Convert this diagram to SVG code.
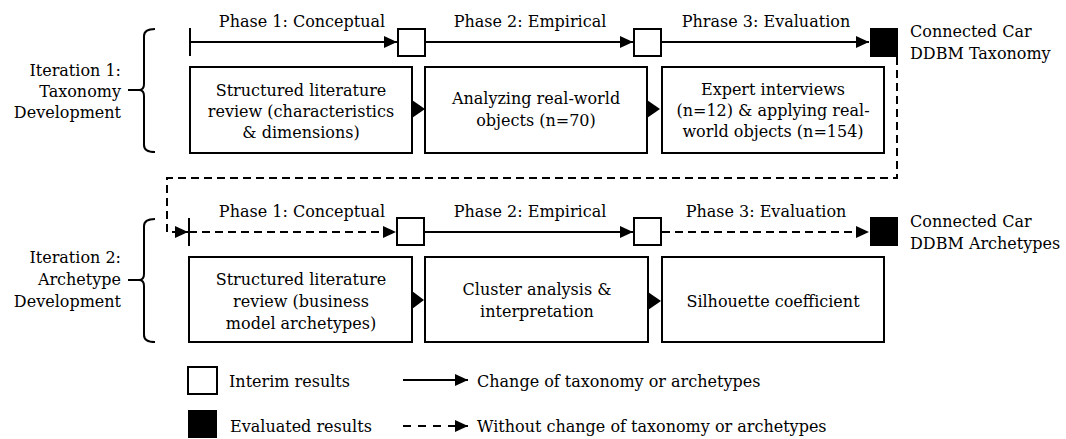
<svg xmlns="http://www.w3.org/2000/svg" width="1066" height="439" viewBox="0 0 1066 439">
<defs>
<style>
text{font-family:"DejaVu Serif","Liberation Serif",serif;font-size:16px;fill:#000}
.c{text-anchor:middle}
.e{text-anchor:end}
.ln{stroke:#000;stroke-width:2;fill:none}
.dash{stroke-dasharray:8,5}
.ldash{stroke-dasharray:8,7}
.box{fill:#fff;stroke:#000;stroke-width:2}
.blk{fill:#000;stroke:#000;stroke-width:2}
.tri{fill:#000}
</style>
<marker id="ah" markerUnits="userSpaceOnUse" markerWidth="14" markerHeight="12" refX="13" refY="6" orient="auto">
<path d="M0,0 L13,6 L0,12 z" fill="#000"/>
</marker>
</defs>

<g id="bracket1">
<path class="ln" d="M155,29 Q144,29 144,36 L144,84 Q144,90 139,90 Q144,90 144,96 L144,145 Q144,152 155,152"/>
<line class="ln" x1="128" y1="90" x2="142" y2="90"/>
<text class="e" x="121" y="76">Iteration 1:</text>
<text class="e" x="121" y="97">Taxonomy</text>
<text class="e" x="121" y="118">Development</text>
</g>
<g id="bracket2">
<path class="ln" d="M155,219 Q144,219 144,226 L144,274 Q144,280 139,280 Q144,280 144,286 L144,335 Q144,342 155,342"/>
<line class="ln" x1="128" y1="280" x2="142" y2="280"/>
<text class="e" x="121" y="263">Iteration 2:</text>
<text class="e" x="121" y="285">Archetype</text>
<text class="e" x="121" y="307">Development</text>
</g>

<g id="connectors">
<line class="ln" x1="190" y1="28" x2="190" y2="56"/>
<line class="ln" x1="190" y1="42" x2="397" y2="42" marker-end="url(#ah)"/>
<line class="ln" x1="426" y1="42" x2="633" y2="42" marker-end="url(#ah)"/>
<line class="ln" x1="662" y1="42" x2="869" y2="42" marker-end="url(#ah)"/>
<path class="ln dash" d="M897,57 L897,178 L167,178 L167,232 L188,232" marker-end="url(#ah)"/>
<line class="ln" x1="189" y1="218" x2="189" y2="246"/>
<line class="ln dash" x1="189" y1="232" x2="396" y2="232" marker-end="url(#ah)"/>
<line class="ln" x1="425" y1="232" x2="633" y2="232" marker-end="url(#ah)"/>
<line class="ln dash" x1="662" y1="232" x2="869" y2="232" marker-end="url(#ah)"/>
<polygon class="tri" points="412,100 425,109 412,118"/>
<polygon class="tri" points="647,100 660,109 647,118"/>
<polygon class="tri" points="412,291 424,300 412,309"/>
<polygon class="tri" points="648,292 661,301 648,310"/>
</g>

<g id="phase-labels">
<text class="c" x="302" y="27">Phase 1: Conceptual</text>
<text class="c" x="530" y="27">Phase 2: Empirical</text>
<text class="c" x="766" y="27">Phrase 3: Evaluation</text>
<text class="c" x="302" y="217">Phase 1: Conceptual</text>
<text class="c" x="530" y="217">Phase 2: Empirical</text>
<text class="c" x="766" y="217">Phase 3: Evaluation</text>
</g>

<g id="interim1a"><rect class="box" x="398" y="29" width="27" height="27"/></g>
<g id="interim1b"><rect class="box" x="634" y="29" width="27" height="27"/></g>
<g id="result1">
<rect class="blk" x="871" y="29" width="26" height="27"/>
<text x="910" y="37">Connected Car</text>
<text x="910" y="59">DDBM Taxonomy</text>
</g>
<g id="interim2a"><rect class="box" x="397" y="218" width="27" height="27"/></g>
<g id="interim2b"><rect class="box" x="634" y="218" width="27" height="27"/></g>
<g id="result2">
<rect class="blk" x="871" y="218" width="26" height="27"/>
<text x="910" y="227">Connected Car</text>
<text x="910" y="249">DDBM Archetypes</text>
</g>

<g id="box1-1">
<rect class="box" x="190" y="67" width="222" height="86"/>
<text class="c" x="301" y="96">Structured literature</text>
<text class="c" x="301" y="117">review (characteristics</text>
<text class="c" x="301" y="138">&amp; dimensions)</text>
</g>
<g id="box1-2">
<rect class="box" x="425" y="67" width="222" height="86"/>
<text class="c" x="536" y="104">Analyzing real-world</text>
<text class="c" x="536" y="126">objects (n=70)</text>
</g>
<g id="box1-3">
<rect class="box" x="662" y="67" width="222" height="86"/>
<text class="c" x="773" y="95">Expert interviews</text>
<text class="c" x="773" y="116">(n=12) &amp; applying real-</text>
<text class="c" x="773" y="137">world objects (n=154)</text>
</g>
<g id="box2-1">
<rect class="box" x="189" y="257" width="223" height="85"/>
<text class="c" x="301" y="285">Structured literature</text>
<text class="c" x="301" y="307">review (business</text>
<text class="c" x="301" y="329">model archetypes)</text>
</g>
<g id="box2-2">
<rect class="box" x="425" y="257" width="223" height="85"/>
<text class="c" x="537" y="295">Cluster analysis &amp;</text>
<text class="c" x="537" y="317">interpretation</text>
</g>
<g id="box2-3">
<rect class="box" x="662" y="257" width="222" height="85"/>
<text class="c" x="773" y="307">Silhouette coefficient</text>
</g>

<g id="legend">
<rect class="box" x="188" y="367" width="29" height="27"/>
<text x="229" y="387">Interim results</text>
<rect class="blk" x="189" y="411" width="27" height="26"/>
<text x="230" y="432">Evaluated results</text>
<line class="ln" x1="403" y1="380" x2="468" y2="380" marker-end="url(#ah)"/>
<text x="477" y="387">Change of taxonomy or archetypes</text>
<line class="ln ldash" x1="403" y1="426" x2="468" y2="426" marker-end="url(#ah)"/>
<text x="477" y="432">Without change of taxonomy or archetypes</text>
</g>
</svg>
